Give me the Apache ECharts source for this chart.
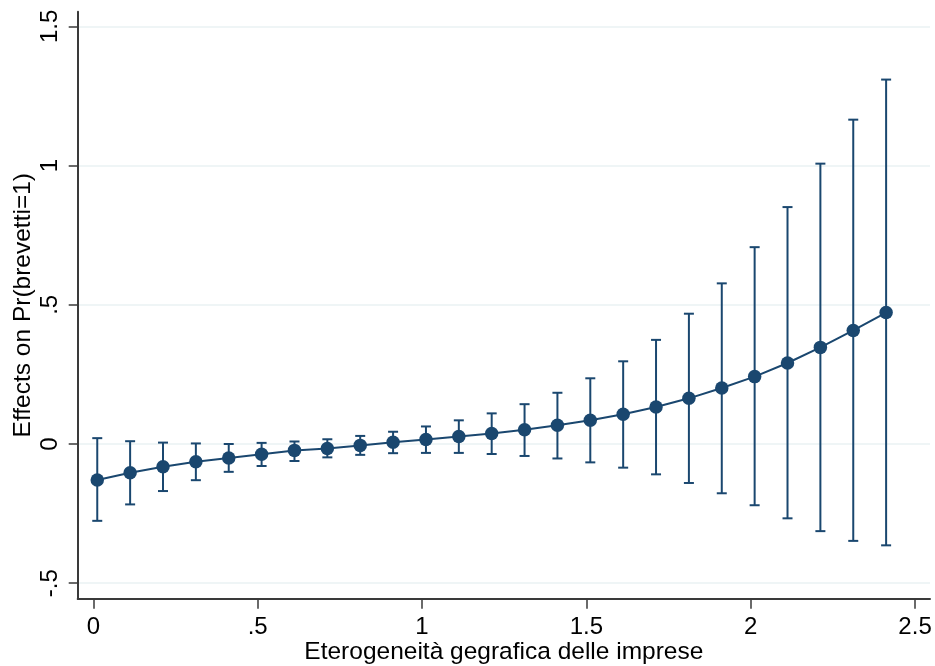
<!DOCTYPE html>
<html>
<head>
<meta charset="utf-8">
<script src="https://cdn.jsdelivr.net/npm/echarts@6/dist/echarts.min.js"></script>
<style>
html,body{margin:0;padding:0;background:#fff;}
#chart{width:935px;height:666px;}
</style>
</head>
<body>
<div id="chart"></div>
<script>
// Data
var xValues = [0.012, 0.112, 0.212, 0.312, 0.412, 0.512, 0.612, 0.712, 0.812, 0.912, 1.012, 1.112, 1.212, 1.312, 1.412, 1.512, 1.612, 1.712, 1.812, 1.912, 2.012, 2.112, 2.212, 2.312, 2.412];
var estimates = [-0.129, -0.103, -0.082, -0.064, -0.050, -0.037, -0.023, -0.016, -0.005, 0.006, 0.016, 0.027, 0.038, 0.051, 0.067, 0.085, 0.107, 0.133, 0.164, 0.201, 0.242, 0.291, 0.347, 0.408, 0.472];
var upperCI = [0.021, 0.010, 0.005, 0.002, 0.000, 0.004, 0.009, 0.017, 0.029, 0.044, 0.063, 0.085, 0.110, 0.143, 0.184, 0.236, 0.297, 0.374, 0.468, 0.577, 0.707, 0.851, 1.007, 1.165, 1.309];
var lowerCI = [-0.276, -0.217, -0.169, -0.130, -0.100, -0.079, -0.061, -0.048, -0.039, -0.033, -0.032, -0.032, -0.036, -0.043, -0.052, -0.066, -0.085, -0.109, -0.140, -0.177, -0.220, -0.267, -0.313, -0.348, -0.364];
var xTicks = [0, 0.5, 1, 1.5, 2, 2.5];
var xTickLabels = ['0', '.5', '1', '1.5', '2', '2.5'];
var yTicks = [-0.5, 0, 0.5, 1, 1.5];
var yTickLabels = ['-.5', '0', '.5', '1', '1.5'];
var xTitle = 'Eterogeneità gegrafica delle imprese';
var yTitle = 'Effects on Pr(brevetti=1)';

var navy = '#1a476f';
var axisColor = '#3a3a3a';
var font = '"Liberation Sans", Arial, sans-serif';

function labelFor(ticks, labels) {
  return function (v) {
    for (var i = 0; i < ticks.length; i++) {
      if (Math.abs(ticks[i] - v) < 1e-9) return labels[i];
    }
    return '';
  };
}

var pointData = xValues.map(function (x, i) { return [x, estimates[i]]; });
var ciData = xValues.map(function (x, i) { return [x, lowerCI[i], upperCI[i]]; });

var chart = echarts.init(document.getElementById('chart'), null, {renderer: 'canvas'});
chart.setOption({
  backgroundColor: '#ffffff',
  animation: false,
  grid: {left: 77.7, right: 5, top: 11.7, bottom: 67.3, containLabel: false, outerBoundsMode: 'none'},
  xAxis: {
    type: 'value',
    min: -0.0475,
    max: 2.5455,
    name: xTitle,
    nameLocation: 'middle',
    nameGap: 41,
    nameMoveOverlap: false,
    nameTextStyle: {color: '#000', fontSize: 24.5, fontFamily: font, verticalAlign: 'top'},
    axisLine: {show: true, onZero: false, lineStyle: {color: axisColor, width: 2}},
    axisTick: {show: true, length: 10, customValues: xTicks, lineStyle: {color: axisColor, width: 1.5}},
    axisLabel: {show: true, customValues: xTicks, margin: 16.5, color: '#000', fontSize: 24, fontFamily: font, formatter: labelFor(xTicks, xTickLabels)},
    splitLine: {show: false}
  },
  yAxis: {
    type: 'value',
    min: -0.5557,
    max: 1.5528,
    name: yTitle,
    nameLocation: 'middle',
    nameGap: 42,
    nameMoveOverlap: false,
    nameRotate: 90,
    nameTextStyle: {color: '#000', fontSize: 24.5, fontFamily: font},
    axisLine: {show: true, onZero: false, lineStyle: {color: axisColor, width: 2}},
    axisTick: {show: true, length: 9, customValues: yTicks, lineStyle: {color: axisColor, width: 1.5}},
    axisLabel: {show: true, customValues: yTicks, rotate: 90, margin: 15.5, color: '#000', fontSize: 24, fontFamily: font, formatter: labelFor(yTicks, yTickLabels)},
    splitLine: {show: true, lineStyle: {color: '#eaf2f3', width: 1.5}}
  },
  series: [
    {
      type: 'custom',
      name: 'CI',
      data: ciData,
      z: 2,
      renderItem: function (params, api) {
        var x = api.value(0);
        var lo = api.coord([x, api.value(1)]);
        var hi = api.coord([x, api.value(2)]);
        var hw = 5;
        var style = {stroke: navy, lineWidth: 2, fill: null};
        return {
          type: 'group',
          children: [
            {type: 'line', shape: {x1: lo[0], y1: lo[1], x2: hi[0], y2: hi[1]}, style: style},
            {type: 'line', shape: {x1: lo[0] - hw, y1: lo[1], x2: lo[0] + hw, y2: lo[1]}, style: style},
            {type: 'line', shape: {x1: hi[0] - hw, y1: hi[1], x2: hi[0] + hw, y2: hi[1]}, style: style}
          ]
        };
      }
    },
    {
      type: 'line',
      name: 'Effect',
      data: pointData,
      z: 3,
      symbol: 'circle',
      symbolSize: 13.5,
      showSymbol: true,
      lineStyle: {color: navy, width: 2},
      itemStyle: {color: navy, borderWidth: 0}
    }
  ]
});
</script>
</body>
</html>
